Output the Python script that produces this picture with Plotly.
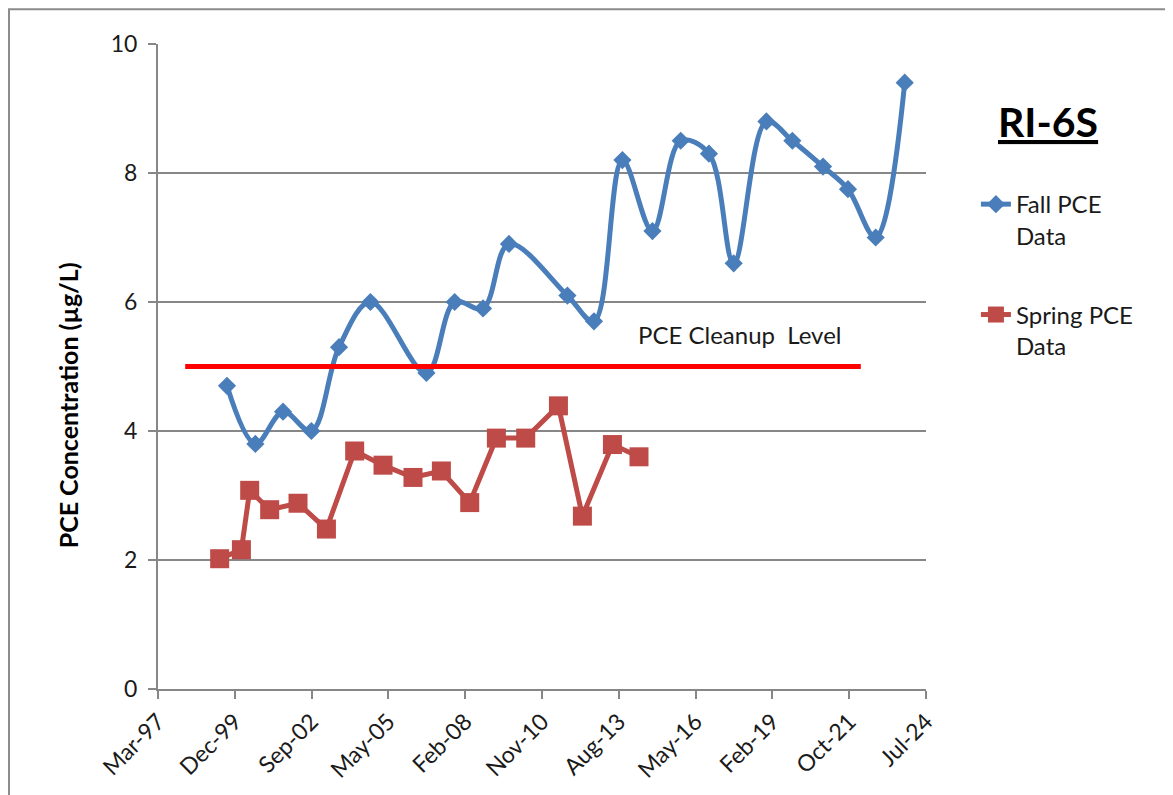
import pandas as pd
import plotly.graph_objects as go

# X AXIS (date axis: starts in Mar-97, one major tick every 1000 days)

AXIS_START = "1997-03-12"
TICK_STEP_DAYS = 1000
TICK_LABELS = ["Mar-97", "Dec-99", "Sep-02", "May-05", "Feb-08", "Nov-10",
               "Aug-13", "May-16", "Feb-19", "Oct-21", "Jul-24"]

# SERIES DATA

fall_dates = ["1999-08-27", "2000-08-31", "2001-08-26", "2002-08-30", "2003-08-25",
              "2004-10-07", "2006-10-06", "2007-10-09", "2008-10-12", "2009-09-15",
              "2011-10-16", "2012-09-26", "2013-10-01", "2014-10-27", "2015-10-30",
              "2016-11-01", "2017-09-19", "2018-11-19", "2019-10-23", "2020-11-25",
              "2021-10-16", "2022-10-12", "2023-10-25"]
fall_pce = [4.7, 3.8, 4.3, 4.0, 5.3, 6.0, 4.9, 6.0, 5.9, 6.9, 6.1, 5.7,
            8.2, 7.1, 8.5, 8.3, 6.6, 8.8, 8.5, 8.1, 7.75, 7.0, 9.4]

spring_dates = ["1999-05-24", "2000-03-02", "2000-06-18", "2001-03-05", "2002-03-09",
                "2003-03-14", "2004-03-16", "2005-03-20", "2006-04-14", "2007-04-19",
                "2008-04-22", "2009-04-04", "2010-04-21", "2011-06-21", "2012-04-28",
                "2013-05-24", "2014-05-05"]
spring_pce = [2.02, 2.16, 3.08, 2.78, 2.88, 2.48, 3.69, 3.47, 3.28, 3.38,
              2.89, 3.89, 3.89, 4.39, 2.68, 3.79, 3.6]

cleanup_dates = ["1998-03-01", "2022-04-01"]
cleanup_level = [5, 5]

# COLORS

BLUE = "#4a7ebb"
RED = "#be4b48"
GRID = "#878787"
FONT = "Lato"

# BUILD CHART

start = pd.Timestamp(AXIS_START)
tick_vals = [start + pd.Timedelta(days=TICK_STEP_DAYS * i) for i in range(len(TICK_LABELS))]

fig = go.Figure()

fig.add_trace(go.Scatter(
    x=fall_dates, y=fall_pce, name="Fall PCE<br>Data", legendgroup="fall",
    mode="lines+markers", line=dict(color=BLUE, width=5, shape="spline", smoothing=1),
    marker=dict(symbol="diamond", size=14, color=BLUE, line=dict(width=0)),
))
fig.add_trace(go.Scatter(
    x=spring_dates, y=spring_pce, name="Spring PCE<br>Data", legendgroup="spring",
    mode="lines+markers", line=dict(color=RED, width=5),
    marker=dict(symbol="square", size=19, color=RED, line=dict(width=0)),
))
fig.add_trace(go.Scatter(
    x=cleanup_dates, y=cleanup_level, mode="lines", showlegend=False,
    line=dict(color="#ff0000", width=5),
))

fig.update_xaxes(
    range=[tick_vals[0], tick_vals[-1]], tickvals=tick_vals, ticktext=TICK_LABELS,
    tickangle=-45, showgrid=False, zeroline=False, showline=True, linecolor=GRID,
    linewidth=2, ticks="outside", ticklen=8, tickwidth=2, tickcolor=GRID,
    tickfont=dict(family=FONT, size=23, color="#1a1a1a"),
)
fig.update_yaxes(
    range=[0, 10], dtick=2, showgrid=True, gridcolor=GRID, gridwidth=2,
    zeroline=False, showline=True, linecolor=GRID, linewidth=2,
    ticks="outside", ticklen=8, tickwidth=2, tickcolor=GRID,
    tickfont=dict(family=FONT, size=23, color="#1a1a1a"), ticklabelstandoff=6,
)

# y axis title (Excel centres it on the chart area, a little below the plot centre)
fig.add_annotation(
    text="<b>PCE Concentration (µg/L)</b>", xref="paper", yref="paper",
    x=-0.117, y=0.44, xanchor="center", yanchor="middle", textangle=-90,
    showarrow=False, font=dict(family=FONT, size=25, color="#000000"),
)
fig.add_annotation(
    text="PCE Cleanup  Level", xref="paper", yref="y", x=0.758, y=5.5,
    xanchor="center", yanchor="middle",
    showarrow=False, font=dict(family=FONT, size=24, color="#1a1a1a"),
)
fig.add_annotation(
    text="<b><u>RI-6S</u></b>", xref="paper", yref="paper", x=1.1585, y=0.88,
    xanchor="center", yanchor="middle",
    showarrow=False, font=dict(family=FONT, size=41, color="#000000"),
)

# outer chart frame (only top and left edges show in the crop)
fig.add_shape(type="rect", xref="paper", yref="paper", x0=-0.194, x1=1.5, y0=-0.3, y1=1.054,
              line=dict(color="#8c8c8c", width=2), layer="below")

fig.update_layout(
    width=1165, height=787,
    margin=dict(l=150, r=247, t=36, b=106),
    plot_bgcolor="white", paper_bgcolor="white",
    font=dict(family=FONT, color="#1a1a1a"),
    legend=dict(x=1.065, y=0.786, xanchor="left", yanchor="top", valign="top",
                tracegroupgap=45, font=dict(family=FONT, size=24, color="#1a1a1a")),
)

fig.write_html("out.html")
